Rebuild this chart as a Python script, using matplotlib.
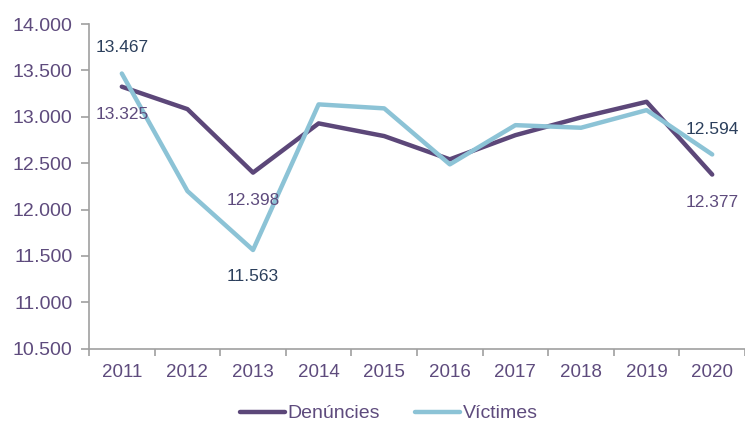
#!/usr/bin/env python3

import numpy as np
import matplotlib.pyplot as plt

plt.rcParams['font.family'] = ['Liberation Sans', 'DejaVu Sans']

years = ['2011', '2012', '2013', '2014', '2015', '2016', '2017', '2018', '2019', '2020']
denuncies = [13325, 13083, 12398, 12929, 12792, 12541, 12802, 12994, 13162, 12377]
victimes = [13467, 12199, 11563, 13134, 13091, 12487, 12910, 12882, 13072, 12594]
yticks = [10500, 11000, 11500, 12000, 12500, 13000, 13500, 14000]

PURPLE = '#5c4779'
BLUE = '#8cc3d6'
TEXT = '#5e4b7d'
NAVY = '#2b3f5c'
AXIS = '#a0a0a0'


def fmt(v):
    # separador de milers amb punt
    return f'{v:,}'.replace(',', '.')


def main():
    fig = plt.figure(figsize=(7.45, 4.23), dpi=100)
    ax = fig.add_axes([0.1195, 0.176, 0.8805, 0.767])

    x = np.arange(len(years))
    ax.plot(x, denuncies, color=PURPLE, lw=3.2, solid_capstyle='round', label='Denúncies')
    ax.plot(x, victimes, color=BLUE, lw=3.2, solid_capstyle='round', label='Víctimes')

    ax.set_xlim(-0.5, len(years) - 0.5)
    ax.set_ylim(10500, 14000)
    ax.set_yticks(yticks)
    ax.set_yticklabels([fmt(v) for v in yticks], color=TEXT, fontsize=14)
    ax.set_xticks(x)
    ax.set_xticklabels(years, color=TEXT, fontsize=13.5)
    ax.set_xticks(np.arange(len(years) + 1) - 0.5, minor=True)
    ax.tick_params(axis='x', which='major', length=0, pad=11)
    ax.tick_params(axis='x', which='minor', length=5, color=AXIS, width=1.2)
    ax.tick_params(axis='y', length=6, color=AXIS, width=1.2, pad=6)

    for s in ['top', 'right']:
        ax.spines[s].set_visible(False)
    for s in ['left', 'bottom']:
        ax.spines[s].set_color(AXIS)
        ax.spines[s].set_linewidth(1.2)

    # etiquetes de dades
    lab = dict(fontsize=12.5, ha='center', va='center', textcoords='offset points')
    ax.annotate(fmt(denuncies[0]), (0, denuncies[0]), xytext=(0, -20), color=TEXT, **lab)
    ax.annotate(fmt(victimes[0]), (0, victimes[0]), xytext=(0, 19), color=NAVY, **lab)
    ax.annotate(fmt(denuncies[2]), (2, denuncies[2]), xytext=(0, -20), color=TEXT, **lab)
    ax.annotate(fmt(victimes[2]), (2, victimes[2]), xytext=(0, -19), color=NAVY, **lab)
    ax.annotate(fmt(denuncies[9]), (9, denuncies[9]), xytext=(0, -20), color=TEXT, **lab)
    ax.annotate(fmt(victimes[9]), (9, victimes[9]), xytext=(0, 18), color=NAVY, **lab)

    fig.legend(loc='lower center', bbox_to_anchor=(0.522, -0.04), ncol=2, frameon=False,
               fontsize=14, labelcolor=TEXT, handlelength=2.3, handletextpad=0.15,
               columnspacing=1.8)

    fig.savefig('out.png', dpi=100)


if __name__ == "__main__":
    main()
